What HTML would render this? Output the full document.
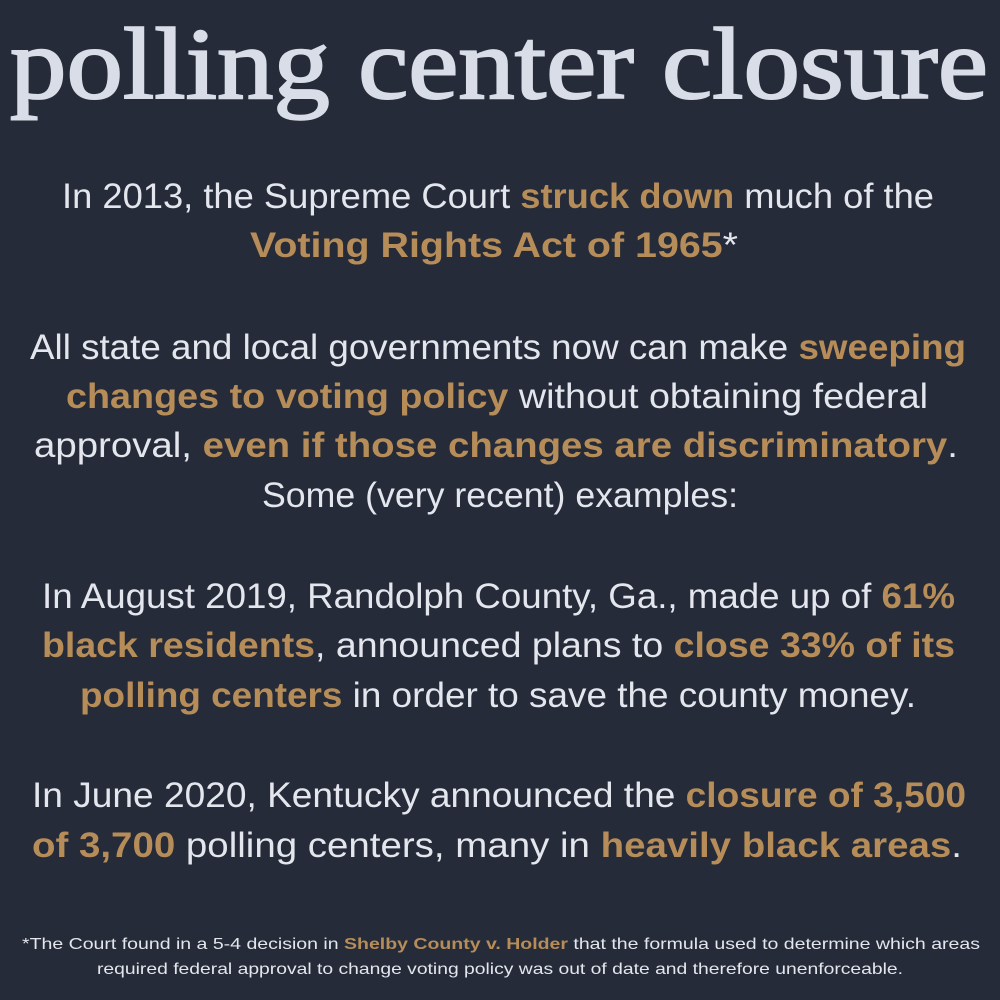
<!DOCTYPE html>
<html><head><meta charset="utf-8"><style>
html,body{margin:0;padding:0;background:#252b38;}
svg{display:block}
.t{font-family:"Liberation Serif",serif;font-weight:normal;fill:#d9dde8;stroke:#d9dde8;stroke-width:2}
.b{font-family:"Liberation Sans",sans-serif;font-size:35px;fill:#e4e6ee}
.g{fill:#b68c58;font-weight:bold}
.f{font-family:"Liberation Sans",sans-serif;font-size:16px;fill:#e4e6ee}
</style></head><body>
<svg width="1000" height="1000" viewBox="0 0 1000 1000">
<rect width="1000" height="1000" fill="#252b38"/>
<text class="t" x="10" y="98" font-size="102" textLength="978" lengthAdjust="spacingAndGlyphs">polling center closure</text>
<g>
<text class="b" x="62" y="208" textLength="872" lengthAdjust="spacingAndGlyphs">In 2013, the Supreme Court <tspan class="g">struck down</tspan> much of the</text>
<text class="b" x="250" y="257" textLength="488" lengthAdjust="spacingAndGlyphs"><tspan class="g">Voting Rights Act of 1965</tspan>*</text>
<text class="b" x="30" y="359" textLength="936" lengthAdjust="spacingAndGlyphs">All state and local governments now can make <tspan class="g">sweeping</tspan></text>
<text class="b" x="66" y="408" textLength="862" lengthAdjust="spacingAndGlyphs"><tspan class="g">changes to voting policy</tspan> without obtaining federal</text>
<text class="b" x="34" y="457" textLength="924" lengthAdjust="spacingAndGlyphs">approval, <tspan class="g">even if those changes are discriminatory</tspan>.</text>
<text class="b" x="262" y="507" textLength="476" lengthAdjust="spacingAndGlyphs">Some (very recent) examples:</text>
<text class="b" x="42" y="608" textLength="913" lengthAdjust="spacingAndGlyphs">In August 2019, Randolph County, Ga., made up of <tspan class="g">61%</tspan></text>
<text class="b" x="42" y="657" textLength="913" lengthAdjust="spacingAndGlyphs"><tspan class="g">black residents</tspan>, announced plans to <tspan class="g">close 33% of its</tspan></text>
<text class="b" x="80" y="707" textLength="836" lengthAdjust="spacingAndGlyphs"><tspan class="g">polling centers</tspan> in order to save the county money.</text>
<text class="b" x="32" y="807" textLength="934" lengthAdjust="spacingAndGlyphs">In June 2020, Kentucky announced the <tspan class="g">closure of 3,500</tspan></text>
<text class="b" x="32" y="857" textLength="930" lengthAdjust="spacingAndGlyphs"><tspan class="g">of 3,700</tspan> polling centers, many in <tspan class="g">heavily black areas</tspan>.</text>
</g>
<g>
<text class="f" x="22" y="949" textLength="958" lengthAdjust="spacingAndGlyphs">*The Court found in a 5-4 decision in <tspan class="g">Shelby County v. Holder</tspan> that the formula used to determine which areas</text>
<text class="f" x="97" y="974" textLength="806" lengthAdjust="spacingAndGlyphs">required federal approval to change voting policy was out of date and therefore unenforceable.</text>
</g>
</svg>
</body></html>
